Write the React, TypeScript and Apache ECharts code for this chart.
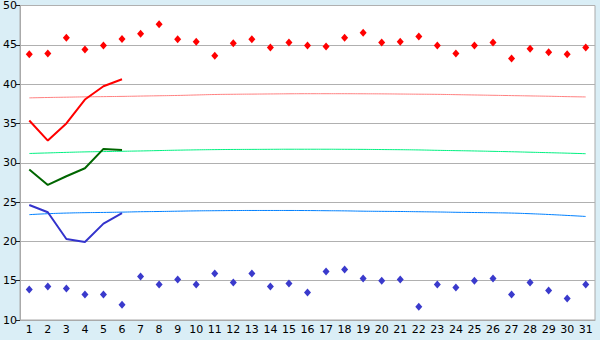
import React, { useEffect, useRef } from "react";
import * as echarts from "echarts";

const days = Array.from({ length: 31 }, (_, i) => String(i + 1));

const maxTemps = [43.8, 43.9, 45.9, 44.4, 44.9, 45.75, 46.4, 47.6, 45.7, 45.4, 43.6, 45.2, 45.7, 44.65, 45.3, 44.9, 44.8, 45.9, 46.55, 45.3, 45.4, 46.05, 44.9, 43.9, 44.9, 45.3, 43.25, 44.5, 44.05, 43.8, 44.65];
const minTemps = [13.87, 14.25, 14.0, 13.23, 13.23, 11.95, 15.52, 14.5, 15.14, 14.5, 15.9, 14.76, 15.9, 14.25, 14.63, 13.49, 16.16, 16.41, 15.27, 15.0, 15.14, 11.7, 14.5, 14.12, 15.0, 15.27, 13.23, 14.76, 13.74, 12.72, 14.5];

const redLine = [35.37, 32.82, 35.0, 38.04, 39.73, 40.62];
const greenLine = [29.15, 27.18, 28.28, 29.3, 31.76, 31.63];
const blueLine = [24.63, 23.7, 20.3, 19.92, 22.26, 23.6];

const redNormal = [38.25, 38.3, 38.34, 38.38, 38.41, 38.44, 38.48, 38.52, 38.56, 38.62, 38.68, 38.71, 38.73, 38.75, 38.77, 38.78, 38.78, 38.78, 38.77, 38.76, 38.74, 38.72, 38.7, 38.66, 38.62, 38.58, 38.54, 38.5, 38.46, 38.41, 38.37];
const greenNormal = [31.18, 31.25, 31.32, 31.38, 31.42, 31.46, 31.5, 31.55, 31.6, 31.64, 31.67, 31.69, 31.7, 31.71, 31.72, 31.72, 31.72, 31.71, 31.7, 31.68, 31.66, 31.63, 31.58, 31.54, 31.5, 31.45, 31.4, 31.34, 31.28, 31.22, 31.15];
const blueNormal = [23.4, 23.52, 23.6, 23.65, 23.68, 23.72, 23.77, 23.8, 23.84, 23.88, 23.9, 23.92, 23.93, 23.93, 23.93, 23.92, 23.9, 23.88, 23.84, 23.82, 23.8, 23.77, 23.74, 23.7, 23.67, 23.64, 23.6, 23.52, 23.42, 23.3, 23.17];

export default function App() {
  const ref = useRef<HTMLDivElement>(null);
  useEffect(() => {
    if (!ref.current) return;
    const chart = echarts.init(ref.current, null, { renderer: "svg" });
    const thin = (data: number[], color: string) => ({
      type: "line",
      data,
      symbol: "none",
      smooth: true,
      lineStyle: { color, width: 1 },
      z: 2,
    });
    const thick = (data: number[], color: string) => ({
      type: "line",
      data,
      symbol: "none",
      lineStyle: { color, width: 2 },
      z: 3,
    });
    chart.setOption({
      animation: false,
      backgroundColor: "#daeef6",
      textStyle: { fontFamily: "DejaVu Sans" },
      grid: {
        left: 20,
        right: 5,
        top: 5,
        bottom: 20,
        show: true,
        backgroundColor: "#ffffff",
        borderColor: "#aaaaaa",
        borderWidth: 1,
      },
      xAxis: {
        type: "category",
        data: days,
        boundaryGap: true,
        axisLine: { lineStyle: { color: "#aaaaaa", width: 1 } },
        axisTick: { alignWithLabel: true, length: 5, lineStyle: { color: "#222222" } },
        axisLabel: { color: "#000000", fontSize: 11, margin: 4, interval: 0, fontFamily: "DejaVu Sans" },
      },
      yAxis: {
        type: "value",
        min: 10,
        max: 50,
        interval: 5,
        axisLine: { show: true, lineStyle: { color: "#aaaaaa" } },
        axisTick: { show: true, length: 4, lineStyle: { color: "#222222" } },
        axisLabel: { color: "#000000", fontSize: 11, margin: 3, fontFamily: "DejaVu Sans" },
        splitLine: { lineStyle: { color: "#b0b0b0", width: 1 } },
      },
      series: [
        thin(redNormal, "#ff8080"),
        thin(greenNormal, "#00f080"),
        thin(blueNormal, "#0080ff"),
        thick(redLine, "#ff0000"),
        thick(greenLine, "#006600"),
        thick(blueLine, "#3333cc"),
        {
          type: "scatter",
          data: maxTemps,
          symbol: "diamond",
          symbolSize: [7, 8],
          itemStyle: { color: "#ff0000", opacity: 1 },
          z: 4,
        },
        {
          type: "scatter",
          data: minTemps,
          symbol: "diamond",
          symbolSize: [7, 8],
          itemStyle: { color: "#3a3acc", opacity: 1 },
          z: 4,
        },
      ],
    });
    return () => chart.dispose();
  }, []);
  return (
    <div
      ref={ref}
      style={{ position: "fixed", left: 0, top: 0, width: 600, height: 340 }}
    />
  );
}
